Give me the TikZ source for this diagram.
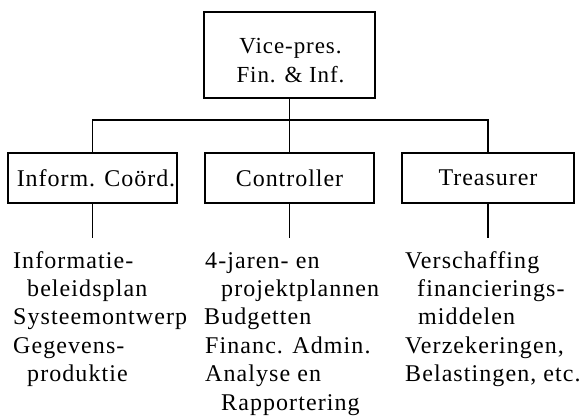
\documentclass[tikz,border=0pt]{standalone}
\usepackage{fontspec}
\setmainfont{Liberation Serif}
\newfontfamily\bodyface[LetterSpace=4.5]{Liberation Serif}
\newfontfamily\boxface[LetterSpace=4]{Liberation Serif}
\begin{document}
\begin{tikzpicture}[x=1pt,y=-1pt,
  boxst/.style={draw, line width=2.3pt, inner sep=0pt},
  conn/.style={line width=1.3pt},
  boxtext/.style={font=\boxface\fontsize{24}{29}\selectfont},
  toptext/.style={font=\boxface\fontsize{23}{29}\selectfont},
  txt/.style={anchor=base west, inner sep=0pt, font=\bodyface\fontsize{24}{28}\selectfont}]
\useasboundingbox (0,0) rectangle (581,416);
% top box
\node[boxst, minimum width=171pt, minimum height=86pt] (vp) at (289.5,55) {};
\node[toptext, anchor=base, inner sep=0pt] (vp1) at (290.5,53) {Vice-pres.};
\node[toptext, anchor=base, inner sep=0pt] (vp2) at (290.5,82) {Fin. \& Inf.};
% middle boxes
\node[boxst, boxtext, minimum width=169pt, minimum height=50pt] (inf) at (92.5,178) {\hspace*{7pt}Inform. Coörd.};
\node[boxst, boxtext, minimum width=169pt, minimum height=50pt] (ctl) at (289.5,178) {Controller};
\node[boxst, boxtext, minimum width=172pt, minimum height=50pt] (trs) at (488,178) {Treasurer};
% connectors
\coordinate (bar) at (289.5,120);
\draw[conn] (vp.south) -- (ctl.north);
\draw[conn] (inf.north) |- (bar) -| (trs.north);
\draw[conn] (inf.south) -- ++(0,34);
\draw[conn] (ctl.south) -- ++(0,34);
\draw[conn] (trs.south) -- ++(0,34);
% left column
\node[txt] (l1) at (13,268) {Informatie-};
\node[txt] (l2) at (27,296.4) {beleidsplan};
\node[txt] (l3) at (13,324.8) {Systeemontwerp};
\node[txt] (l4) at (13,353.2) {Gegevens-};
\node[txt] (l5) at (27,381.6) {produktie};
% middle column
\node[txt] (m1) at (205,268) {4-jaren- en};
\node[txt] (m2) at (221,296.4) {projektplannen};
\node[txt] (m3) at (204,324.8) {Budgetten};
\node[txt] (m4) at (205,353.2) {Financ. Admin.};
\node[txt] (m5) at (205,381.6) {Analyse en};
\node[txt] (m6) at (221,410) {Rapportering};
% right column
\node[txt] (r1) at (405,268) {Verschaffing};
\node[txt] (r2) at (417,296.4) {financierings-};
\node[txt] (r3) at (418,324.8) {middelen};
\node[txt] (r4) at (405,353.2) {Verzekeringen,};
\node[txt] (r5) at (405,381.6) {Belastingen, etc.};
\end{tikzpicture}
\end{document}
